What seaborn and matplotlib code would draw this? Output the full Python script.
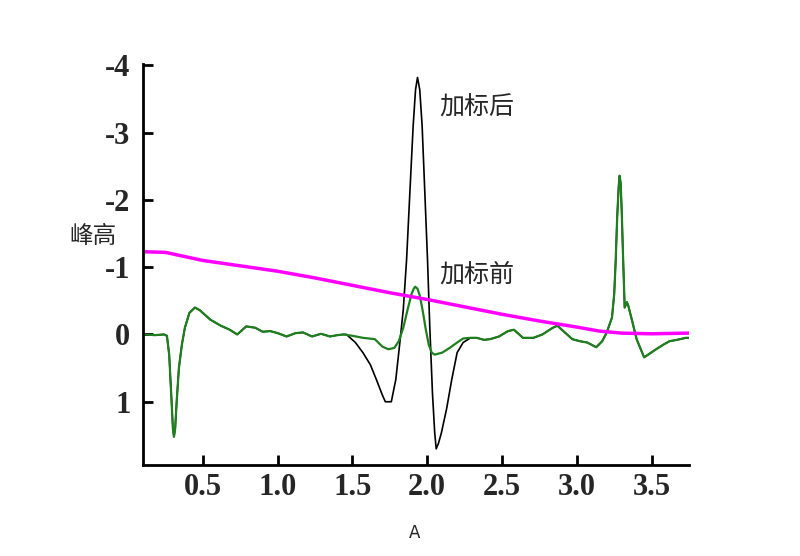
import pandas as pd
import matplotlib
matplotlib.use('Agg')
import matplotlib.pyplot as plt
import seaborn as sns

# green trace: before spiking (加标前)
before_x = [0.10, 0.18, 0.24, 0.26, 0.275, 0.29, 0.30, 0.307, 0.315, 0.325, 0.34, 0.36,
            0.38, 0.41, 0.447, 0.48, 0.52, 0.55, 0.62, 0.68, 0.73, 0.79, 0.85, 0.90,
            0.95, 1.00, 1.06, 1.12, 1.17, 1.23, 1.29, 1.35, 1.40, 1.44, 1.50, 1.57,
            1.65, 1.70, 1.74, 1.78, 1.81, 1.84, 1.87, 1.895, 1.91, 1.92, 1.935, 1.95,
            1.97, 1.99, 2.01, 2.03, 2.05, 2.10, 2.15, 2.20, 2.24, 2.29, 2.33, 2.38,
            2.42, 2.48, 2.54, 2.58, 2.64, 2.71, 2.77, 2.84, 2.87, 2.92, 2.97, 3.02,
            3.07, 3.13, 3.17, 3.20, 3.235, 3.25, 3.26, 3.27, 3.28, 3.286, 3.293, 3.30,
            3.31, 3.32, 3.335, 3.345, 3.37, 3.40, 3.45, 3.49, 3.53, 3.58, 3.62, 3.67,
            3.73, 3.75]
before_y = [0.00, 0.01, 0.00, 0.02, 0.30, 0.95, 1.40, 1.52, 1.40, 1.00, 0.50, 0.15,
            -0.10, -0.32, -0.40, -0.36, -0.28, -0.22, -0.13, -0.07, 0.00, -0.12, -0.10, -0.04,
            -0.05, -0.02, 0.03, -0.02, -0.03, 0.03, -0.01, 0.03, 0.01, 0.00, 0.02, 0.05,
            0.07, 0.18, 0.22, 0.20, 0.10, -0.10, -0.38, -0.60, -0.68, -0.71, -0.68, -0.58,
            -0.35, -0.08, 0.15, 0.27, 0.30, 0.27, 0.20, 0.12, 0.06, 0.05, 0.05, 0.08,
            0.07, 0.03, -0.05, -0.07, 0.05, 0.05, 0.00, -0.10, -0.13, -0.03, 0.07, 0.10,
            0.12, 0.19, 0.10, -0.03, -0.25, -0.60, -1.10, -1.75, -2.20, -2.36, -2.25, -1.85,
            -1.10, -0.40, -0.48, -0.42, -0.20, 0.07, 0.34, 0.28, 0.22, 0.15, 0.10, 0.08,
            0.05, 0.05]

# black trace: after spiking (加标后), differs from green between 1.45 and 2.25
after_mid_x = [1.46, 1.52, 1.57, 1.62, 1.66, 1.70, 1.72, 1.76, 1.79, 1.817, 1.84, 1.862,
               1.884, 1.906, 1.922, 1.935, 1.95, 1.966, 1.984, 2.002, 2.017, 2.035, 2.05,
               2.06, 2.075, 2.095, 2.13, 2.164, 2.20, 2.24]
after_mid_y = [0.00, 0.12, 0.27, 0.45, 0.67, 0.90, 1.00, 1.00, 0.67, 0.12, -0.37, -1.11,
               -2.11, -3.10, -3.64, -3.82, -3.64, -3.10, -2.11, -1.11, -0.12, 0.87, 1.46,
               1.70, 1.62, 1.46, 1.10, 0.67, 0.27, 0.12]

# magenta trace: blank
blank_x = [0.10, 0.25, 0.50, 0.75, 1.00, 1.25, 1.50, 1.75, 2.00, 2.25, 2.50, 2.75,
           3.00, 3.15, 3.30, 3.50, 3.75]
blank_y = [-1.23, -1.22, -1.10, -1.02, -0.94, -0.84, -0.73, -0.62, -0.52, -0.41, -0.30, -0.20,
           -0.11, -0.05, -0.02, -0.01, -0.02]

y_ticks = [-4, -3, -2, -1, 0, 1]
x_ticks = [0.5, 1.0, 1.5, 2.0, 2.5, 3.0, 3.5]

df_before = pd.DataFrame({'x': before_x, 'y': before_y})
df_after = pd.concat([
    df_before[df_before['x'] < 1.46],
    pd.DataFrame({'x': after_mid_x, 'y': after_mid_y}),
    df_before[df_before['x'] > 2.25],
], ignore_index=True)
df_blank = pd.DataFrame({'x': blank_x, 'y': blank_y})

sns.set_style('ticks')
plt.rcParams['font.family'] = ['Noto Sans CJK SC', 'DejaVu Sans']
plt.rcParams['axes.unicode_minus'] = False

fig = plt.figure(figsize=(8, 5.56), dpi=100)
ax = fig.add_axes([0.17875, 0.1637, 0.6825, 0.7212])

sns.lineplot(data=df_after, x='x', y='y', ax=ax, color='black', lw=1.2,
             sort=False, estimator=None)
sns.lineplot(data=df_before, x='x', y='y', ax=ax, color='#1f7f1f', lw=1.6,
             sort=False, estimator=None)
sns.lineplot(data=df_blank, x='x', y='y', ax=ax, color='#ff00ff', lw=2.5,
             sort=False, estimator=None)

ax.set_xlim(0.1, 3.75)
ax.set_ylim(1.94, -4.02)
ax.set_xticks(x_ticks)
ax.set_yticks(y_ticks)
ax.set_xticklabels([f'{v:.1f}' for v in x_ticks])
ax.set_yticklabels([str(v) for v in y_ticks])
for lab in ax.get_xticklabels() + ax.get_yticklabels():
    lab.set_fontfamily('Liberation Serif')
    lab.set_fontweight('bold')
    lab.set_fontsize(22)

ax.tick_params(direction='in', length=7, width=2, color='black')
ax.tick_params(axis='x', pad=6)
ax.tick_params(axis='y', pad=9)
sns.despine(ax=ax)
for side in ['left', 'bottom']:
    ax.spines[side].set_linewidth(2)
    ax.spines[side].set_color('black')

ax.set_ylabel('峰高', fontsize=17, rotation=0, ha='center', va='center')
ax.yaxis.set_label_coords(-0.092, 0.569)
ax.set_xlabel('A', fontsize=12, fontfamily='DejaVu Sans', va='center')
ax.xaxis.set_label_coords(0.498, -0.17)

ax.text(2.084, -3.37, '加标后', fontsize=18, ha='left', va='center')
ax.text(2.084, -0.89, '加标前', fontsize=18, ha='left', va='center')

fig.savefig('out.png', dpi=100)
